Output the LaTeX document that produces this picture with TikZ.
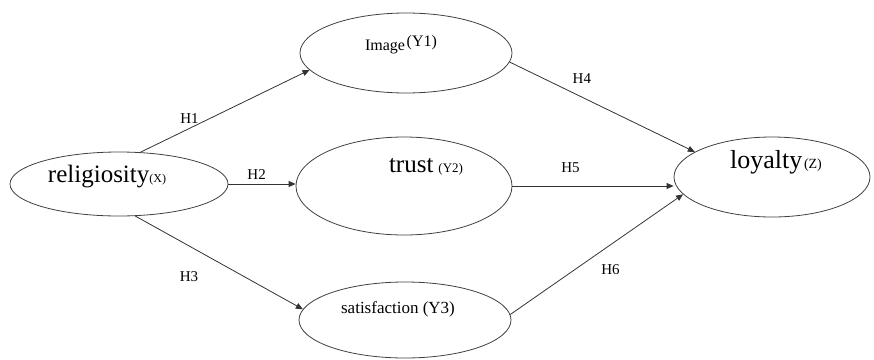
\documentclass[tikz,border=0pt]{standalone}
\usepackage{fontspec}
\setmainfont{Liberation Serif}
\usetikzlibrary{shapes.geometric,arrows.meta}
\tikzset{
  var/.style={draw=black!75, ellipse, inner sep=0pt, line width=0.8pt},
  hyp/.style={font=\fontsize{15}{17}\selectfont, inner sep=1pt},
  link/.style={-{Triangle[length=7pt,width=6pt]}, draw=black!80, line width=0.8pt}
}
\begin{document}
\begin{tikzpicture}[x=1pt,y=-1pt]
\useasboundingbox (0,0) rectangle (874,359);
\node[var, minimum width=218pt, minimum height=64pt,
  label={[xshift=-12pt,yshift=7pt]center:{\fontsize{25}{28}\selectfont religiosity}{\fontsize{12}{14}\selectfont(X)}}] (rel) at (119,184) {};
\node[var, minimum width=212pt, minimum height=80pt,
  label={[xshift=-5pt,yshift=8pt]center:{\fontsize{16}{19}\selectfont Image}\,\raisebox{4pt}{\fontsize{16}{19}\selectfont(Y1)}}] (img) at (406,53) {};
\node[var, minimum width=216pt, minimum height=98pt,
  label={[xshift=22pt,yshift=19pt]center:{\fontsize{25}{28}\selectfont trust}\ \ {\fontsize{13}{15}\selectfont(Y2)}}] (tru) at (404,186) {};
\node[var, minimum width=212pt, minimum height=76pt,
  label={[xshift=-7pt,yshift=11pt]center:{\fontsize{17}{20}\selectfont satisfaction (Y3)}}] (sat) at (405,320) {};
\node[var, minimum width=196pt, minimum height=80pt,
  label={[xshift=4pt,yshift=15pt]center:{\fontsize{26}{29}\selectfont loyalty}\,{\fontsize{14}{16}\selectfont(Z)}}] (loy) at (772,177) {};
% hypotheses
\draw[link] (rel.56) -- (img.190) node[hyp, pos=0.29, above=3pt] {H1};
\draw[link] (rel.east) -- (rel.east -| tru.west) node[hyp, pos=0.42, above=3pt] {H2};
\draw[link] (rel.-63) -- (sat.174) node[hyp, pos=0.32, below=24pt] {H3};
\draw[link] (img.-5) -- (loy.162) node[hyp, pos=0.39, above=12pt] {H4};
\draw[link] (tru.east) -- (tru.east -| loy.west) node[hyp, pos=0.36, above=12pt] {H5};
\draw[link] (sat.3) -- (loy.191) node[hyp, pos=0.58, below=18pt] {H6};
\end{tikzpicture}
\end{document}
